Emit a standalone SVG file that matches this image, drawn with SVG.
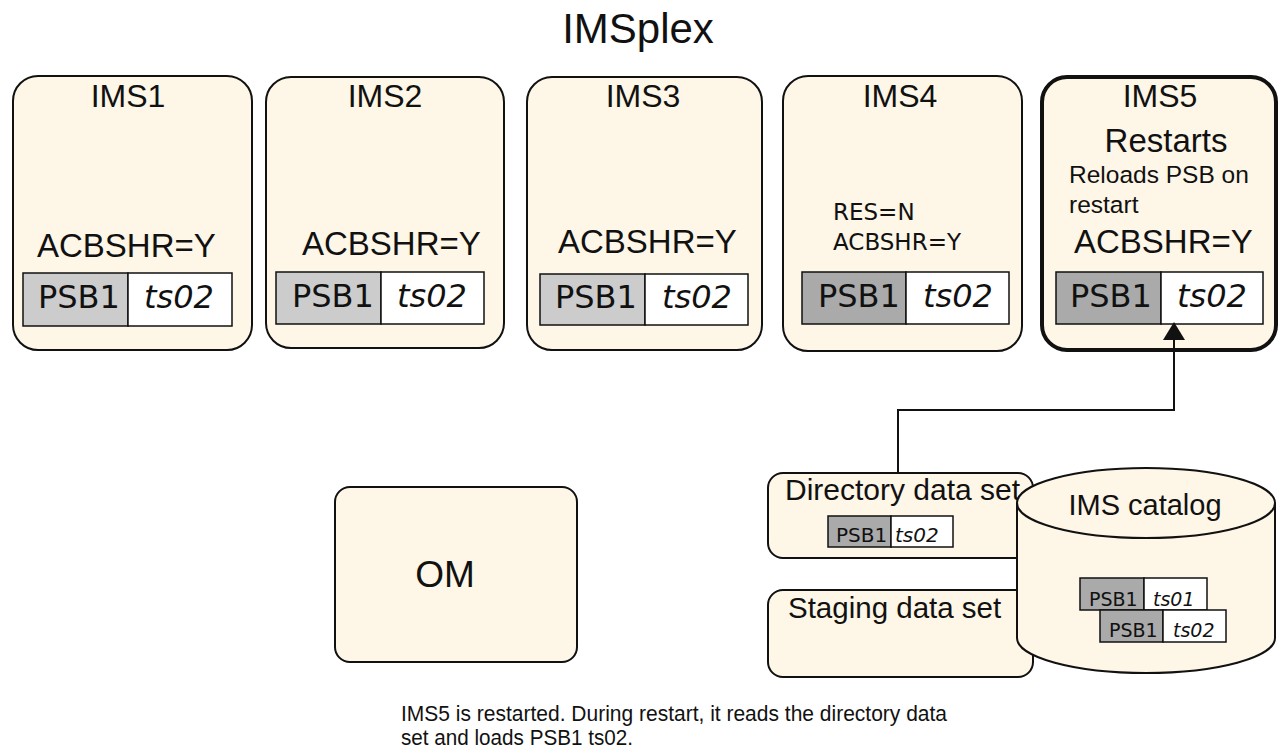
<svg xmlns="http://www.w3.org/2000/svg" width="1278" height="753" viewBox="0 0 1278 753">
<defs>
<style>
.box{fill:#fef6e7;stroke:#111;stroke-width:2}
.bold{stroke-width:4}
.sans{font-family:"Liberation Sans",Arial,sans-serif;fill:#111}
.dj{font-family:"DejaVu Sans",sans-serif;fill:#111}
.it{font-style:italic}
.g1{fill:#cccccc;stroke:#111;stroke-width:1.5}
.g2{fill:#aaaaaa;stroke:#111;stroke-width:1.5}
.w{fill:#fff;stroke:#111;stroke-width:1.5}
.conn{fill:none;stroke:#111;stroke-width:2}
</style>
<marker id="arr" markerUnits="userSpaceOnUse" viewBox="0 0 18 22" refX="0" refY="11" markerWidth="18" markerHeight="22" orient="auto">
<path d="M0,0 L18,11 L0,22 z" fill="#111"/>
</marker>
</defs>
<rect width="1278" height="753" fill="#fff"/>
<text class="sans" x="638" y="43" font-size="42" text-anchor="middle">IMSplex</text>

<g id="ims1">
<rect class="box" x="13" y="76" width="239" height="274" rx="25"/>
<text class="sans" x="128" y="107" font-size="32" text-anchor="middle">IMS1</text>
<text class="sans" x="37" y="257" font-size="33">ACBSHR=Y</text>
<rect class="g1" x="23" y="273" width="105" height="53"/>
<rect class="w" x="128" y="273" width="104" height="53"/>
<text class="dj" x="38" y="308" font-size="32">PSB1</text>
<text class="dj it" x="144" y="308" font-size="32">ts02</text>
</g>

<g id="ims2">
<rect class="box" x="266" y="77" width="238" height="271" rx="25"/>
<text class="sans" x="385" y="107" font-size="32" text-anchor="middle">IMS2</text>
<text class="sans" x="302" y="255" font-size="33">ACBSHR=Y</text>
<rect class="g1" x="276" y="272" width="105" height="52"/>
<rect class="w" x="381" y="272" width="103" height="52"/>
<text class="dj" x="292" y="307" font-size="32">PSB1</text>
<text class="dj it" x="397" y="307" font-size="32">ts02</text>
</g>

<g id="ims3">
<rect class="box" x="527" y="77" width="235" height="273" rx="25"/>
<text class="sans" x="643" y="107" font-size="32" text-anchor="middle">IMS3</text>
<text class="sans" x="558" y="253" font-size="33">ACBSHR=Y</text>
<rect class="g1" x="540" y="274" width="105" height="51"/>
<rect class="w" x="645" y="274" width="103" height="51"/>
<text class="dj" x="555" y="308" font-size="32">PSB1</text>
<text class="dj it" x="662" y="308" font-size="32">ts02</text>
</g>

<g id="ims4">
<rect class="box" x="783" y="76" width="239" height="275" rx="25"/>
<text class="sans" x="900" y="107" font-size="32" text-anchor="middle">IMS4</text>
<text class="dj" x="833" y="220" font-size="23">RES=N</text>
<text class="dj" x="833" y="250" font-size="23">ACBSHR=Y</text>
<rect class="g2" x="802" y="272" width="104" height="52"/>
<rect class="w" x="906" y="272" width="103" height="52"/>
<text class="dj" x="818" y="307" font-size="32">PSB1</text>
<text class="dj it" x="923" y="307" font-size="32">ts02</text>
</g>

<g id="ims5">
<rect class="box bold" x="1042" y="77" width="234" height="273" rx="25"/>
<text class="sans" x="1160" y="107" font-size="32" text-anchor="middle">IMS5</text>
<text class="sans" x="1166" y="152" font-size="33" text-anchor="middle">Restarts</text>
<text class="sans" x="1069" y="183" font-size="24.5">Reloads PSB on</text>
<text class="sans" x="1069" y="213" font-size="24.5">restart</text>
<text class="sans" x="1074" y="253" font-size="33">ACBSHR=Y</text>
<rect class="g2" x="1056" y="272" width="105" height="52"/>
<rect class="w" x="1161" y="272" width="102" height="52"/>
<text class="dj" x="1070" y="307" font-size="32">PSB1</text>
<text class="dj it" x="1177" y="307" font-size="32">ts02</text>
</g>

<g id="om">
<rect class="box" x="335" y="487" width="242" height="175" rx="15"/>
<text class="sans" x="445" y="587" font-size="37" text-anchor="middle">OM</text>
</g>

<g id="directory">
<rect class="box" x="768" y="473" width="265" height="85" rx="15"/>
<text class="sans" x="785" y="500" font-size="30">Directory data set</text>
<rect class="g2" x="828" y="516" width="63" height="31"/>
<rect class="w" x="891" y="516" width="62" height="31"/>
<text class="dj" x="836" y="542" font-size="20">PSB1</text>
<text class="dj it" x="895" y="542" font-size="20">ts02</text>
</g>

<g id="staging">
<rect class="box" x="768" y="590" width="265" height="87" rx="15"/>
<text class="sans" x="788" y="618" font-size="29.5">Staging data set</text>
</g>

<g id="catalog">
<path class="box" d="M1017,503 L1017,638 A129,35 0 0 0 1275,638 L1275,503"/>
<ellipse class="box" cx="1146" cy="503" rx="129" ry="35"/>
<text class="sans" x="1145" y="515" font-size="29" text-anchor="middle">IMS catalog</text>
<rect class="g2" x="1080" y="578" width="64" height="32"/>
<rect class="w" x="1144" y="578" width="63" height="32"/>
<text class="dj" x="1089" y="606" font-size="19">PSB1</text>
<text class="dj it" x="1153" y="606" font-size="19">ts01</text>
<rect class="g2" x="1100" y="610" width="63" height="32"/>
<rect class="w" x="1163" y="610" width="63" height="32"/>
<text class="dj" x="1109" y="637" font-size="19">PSB1</text>
<text class="dj it" x="1173" y="637" font-size="19">ts02</text>
</g>

<g id="connectors">
<polyline class="conn" points="898,472 898,410 1174,410 1174,340" marker-end="url(#arr)"/>
</g>

<g id="caption">
<text class="sans" x="401" y="721" font-size="22" textLength="546" lengthAdjust="spacingAndGlyphs">IMS5 is restarted. During restart, it reads the directory data</text>
<text class="sans" x="401" y="745" font-size="22" textLength="232" lengthAdjust="spacingAndGlyphs">set and loads PSB1 ts02.</text>
</g>
</svg>
